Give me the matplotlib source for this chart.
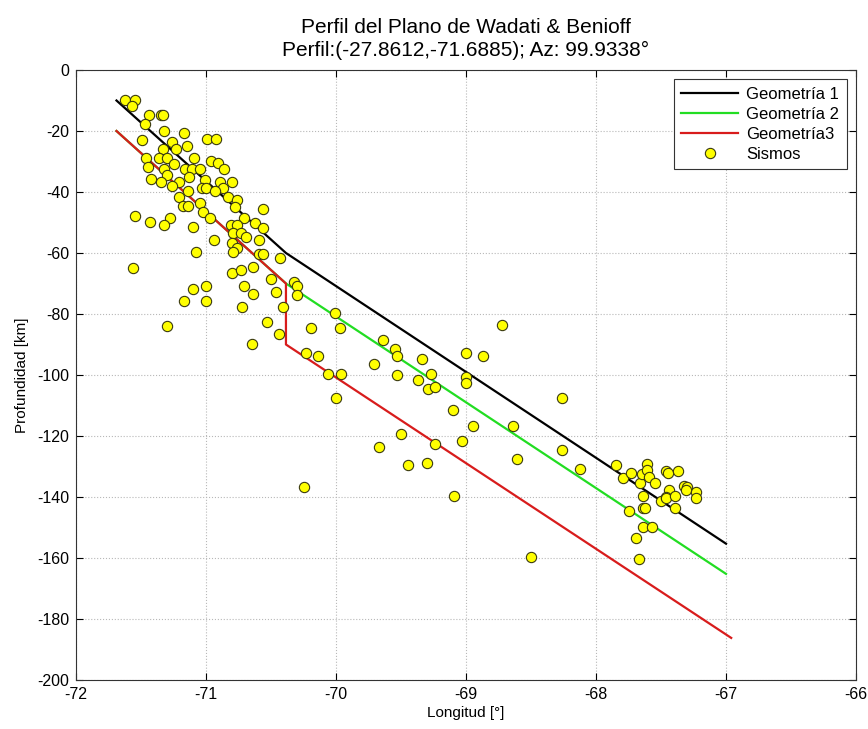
import matplotlib
matplotlib.use("Agg")
import matplotlib.pyplot as plt

plt.rcParams['font.family'] = ['Liberation Sans', 'DejaVu Sans']
plt.rcParams['axes.unicode_minus'] = False

# Geometry lines (longitude, depth)
geo1_lon = [-71.6885, -70.385, -67.0]
geo1_dep = [-10.0, -60.0, -155.3]
geo2_lon = [-71.6885, -70.385, -67.0]
geo2_dep = [-20.0, -70.0, -165.2]
geo3_lon = [-71.6885, -70.385, -70.385, -66.96]
geo3_dep = [-20.0, -70.0, -90.0, -186.2]

# Earthquakes (Sismos)
sismos_lon = [
    -71.62, -71.55, -71.57, -71.44, -71.35, -71.33, -71.47, -71.32, -71.17, -71.49,
    -70.99, -70.92, -71.26, -71.33, -71.15, -71.23, -71.09, -71.46, -71.36, -71.30,
    -70.96, -70.91, -71.45, -71.32, -71.25, -71.16, -71.11, -71.05, -70.86, -71.30,
    -71.42, -71.35, -71.21, -71.13, -71.26, -71.01, -71.03, -71.00, -70.89, -70.87,
    -70.93, -70.80, -70.83, -70.76, -71.14, -71.21, -71.05, -71.18, -71.14, -70.78,
    -70.56, -71.02, -70.71, -70.97, -71.55, -71.43, -71.28, -71.32, -71.10, -70.81,
    -70.76, -70.62, -70.56,
    -70.79, -70.73, -70.69, -70.59, -70.94, -70.80, -70.76, -70.79, -71.08, -70.59,
    -70.56, -70.43, -71.56, -70.80, -70.73, -70.64, -70.50, -70.71, -70.46, -70.64,
    -71.10, -71.00, -71.17, -71.00, -70.72, -70.41, -70.53, -70.44, -70.65, -71.30,
    -70.32, -70.30, -70.30, -70.01, -70.19, -69.97, -70.23, -70.14, -70.06, -69.96,
    -69.71, -69.64, -69.55, -69.53, -69.53,
    -70.00, -70.25, -69.34, -69.37, -69.27, -69.29, -69.24, -69.00, -68.87, -68.72,
    -69.00, -69.00, -69.10, -68.95, -68.64, -69.50, -69.67, -69.24, -69.03, -69.45,
    -69.30, -68.61, -69.09,
    -68.26, -68.26, -68.50, -68.12,
    -67.85, -67.79, -67.73, -67.66, -67.65, -67.61, -67.61, -67.59, -67.55, -67.64,
    -67.64, -67.62, -67.75, -67.64, -67.57, -67.69, -67.67, -67.46, -67.45, -67.37,
    -67.44, -67.50, -67.46, -67.46, -67.39, -67.39, -67.32, -67.30, -67.31, -67.23,
    -67.23,
]
sismos_dep = [
    -9.8, -9.8, -11.8, -14.8, -14.8, -14.8, -17.8, -19.9, -20.8, -23.0,
    -22.7, -22.7, -23.6, -26.0, -24.8, -26.0, -28.7, -28.7, -28.7, -28.7,
    -29.8, -30.6, -31.9, -32.6, -30.8, -32.6, -32.6, -32.6, -32.6, -34.4,
    -35.7, -36.7, -36.7, -35.2, -37.9, -36.1, -38.8, -38.8, -36.6, -38.8,
    -39.7, -36.6, -41.7, -42.6, -39.7, -41.7, -43.7, -44.6, -44.6, -44.8,
    -45.7, -46.7, -48.4, -48.4, -47.8, -49.7, -48.4, -50.8, -51.4, -50.8,
    -50.8, -50.3, -51.9,
    -53.6, -53.6, -54.6, -55.7, -55.7, -56.6, -58.5, -59.6, -59.6, -60.4,
    -60.4, -61.7, -64.8, -66.4, -65.6, -64.7, -68.6, -70.8, -72.7, -73.6,
    -71.8, -70.8, -75.6, -75.6, -77.6, -77.6, -82.7, -86.6, -89.8, -83.8,
    -69.4, -70.8, -73.8, -79.8, -84.5, -84.7, -92.7, -93.7, -99.7, -99.7,
    -96.5, -88.5, -91.5, -93.8, -100.0,
    -107.4, -136.6, -94.8, -101.6, -99.8, -104.7, -103.8, -92.7, -93.8, -83.6,
    -100.5, -102.5, -111.5, -116.7, -116.7, -119.5, -123.5, -122.6, -121.6, -129.5,
    -128.7, -127.5, -139.6,
    -107.7, -124.6, -159.6, -130.9,
    -129.5, -133.7, -132.2, -135.3, -132.6, -129.3, -131.1, -133.3, -135.5, -139.7,
    -143.5, -143.5, -144.5, -149.7, -149.7, -153.3, -160.4, -131.5, -132.2, -131.5,
    -137.7, -141.3, -139.9, -140.4, -139.6, -143.5, -136.4, -136.8, -137.7, -138.5,
    -140.4,
]

title_lines = ["Perfil del Plano de Wadati & Benioff",
               "Perfil:(-27.8612,-71.6885); Az: 99.9338°"]
xticks = [-72, -71, -70, -69, -68, -67, -66]
yticks = [0, -20, -40, -60, -80, -100, -120, -140, -160, -180, -200]

fig = plt.figure(figsize=(8.68, 7.29), dpi=100)
ax = fig.add_axes([76/868, 1-680/729, (856-76)/868, (680-70)/729])

ax.plot(geo1_lon, geo1_dep, color='black', lw=1.6, label='Geometría 1', zorder=3)
ax.plot(geo2_lon, geo2_dep, color='#22dd22', lw=1.6, label='Geometría 2', zorder=3)
ax.plot(geo3_lon, geo3_dep, color='#d81c1c', lw=1.6, label='Geometría3', zorder=3)
ax.plot(sismos_lon, sismos_dep, linestyle='none', marker='o', markersize=7.4,
        markerfacecolor='#ffff00', markeredgecolor='#3a3a10', markeredgewidth=0.8,
        label='Sismos', zorder=4)

ax.set_xlim(-72, -66)
ax.set_ylim(-200, 0)
ax.set_xticks(xticks)
ax.set_yticks(yticks)
ax.tick_params(direction='in', top=True, right=True, labelsize=11.5, length=5, width=0.8,
               pad=5)
ax.grid(True, linestyle=':', color='#b8b8b8', linewidth=0.8)
ax.set_axisbelow(True)
for s in ax.spines.values():
    s.set_linewidth(0.8)
    s.set_color('#333333')

ax.set_xlabel('Longitud [°]', fontsize=11, labelpad=3)
ax.set_ylabel('Profundidad [km]', fontsize=11, labelpad=6)
ax.set_title("\n".join(title_lines), fontsize=15, pad=10, linespacing=1.25)

leg = ax.legend(loc='upper right', fontsize=12, frameon=True, fancybox=False,
                edgecolor='#333333', framealpha=1, borderaxespad=0.55,
                handlelength=3.4, handletextpad=0.5, labelspacing=0.3,
                borderpad=0.45)
leg.get_frame().set_linewidth(0.8)

fig.savefig('out.png', dpi=100)
